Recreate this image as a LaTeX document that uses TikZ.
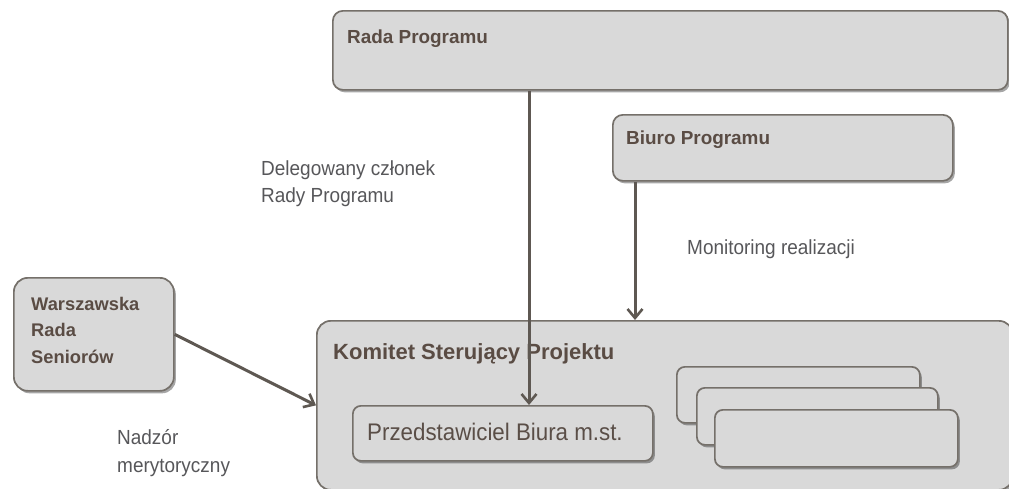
\documentclass[tikz,border=0pt]{standalone}
\usepackage{fontspec}
\setmainfont{Liberation Sans}
\newfontfamily\narrowfont[FakeStretch=0.93]{Liberation Sans}
\usetikzlibrary{arrows.meta,shadows,calc}
\definecolor{boxfill}{HTML}{D9D9D9}
\definecolor{boxline}{HTML}{75706A}
\definecolor{titlecol}{HTML}{5A4C44}
\definecolor{labelcol}{HTML}{57575A}
\definecolor{arrowcol}{HTML}{5E5852}
\begin{document}
\begin{tikzpicture}[x=1pt,y=-1pt,
  box/.style={draw=boxline, line width=1.7pt, fill=boxfill, rounded corners=10pt,
    anchor=north west, inner sep=0pt,
    drop shadow={shadow xshift=2pt,shadow yshift=-2.5pt,fill=black,opacity=0.35}},
  smallbox/.style={box, rounded corners=8pt},
  title/.style={font=\fontsize{18.9}{26.5}\selectfont\bfseries, text=titlecol, inner sep=0pt, anchor=base west, align=left},
  lbl/.style={font=\narrowfont\fontsize{20.4}{26.5}\selectfont, text=labelcol, inner sep=0pt, anchor=base west, align=left},
  arr/.style={draw=arrowcol, line width=3pt, -{Straight Barb[length=9pt,width=15pt,line width=2.6pt]}}
]
\useasboundingbox (0,0) rectangle (1009,488);
\fill[white] (0,0) rectangle (1009,488);
\clip (0,0) rectangle (1009,488);

% boxes
\node[box, minimum width=675pt, minimum height=79pt] (rada) at (332,10) {};
\node[box, minimum width=340pt, minimum height=66pt] (biuro) at (612,114) {};
\node[box, minimum width=160pt, minimum height=113pt, rounded corners=14pt] (wrs) at (13,277) {};
\node[box, minimum width=696pt, minimum height=169pt, rounded corners=14pt] (kom) at (316,320) {};
\node[smallbox, minimum width=243pt, minimum height=56pt] (s1) at (676,366) {};
\node[smallbox, minimum width=241pt, minimum height=57pt] (s2) at (696,387) {};
\node[smallbox, minimum width=243pt, minimum height=57pt] (s3) at (714,409) {};
\node[smallbox, minimum width=300pt, minimum height=55pt] (prz) at (352,405) {};

% texts
\node[title] (radat) at (347,43) {Rada Programu};
\node[title] (biurot) at (626,144) {Biuro Programu};
\node[title, font=\fontsize{18.3}{26.5}\selectfont\bfseries] (wrst) at (31,363) {Warszawska\\Rada\\Seniorów};
\node[title, font=\fontsize{22}{26}\selectfont\bfseries] (komt) at (333,359) {Komitet Sterujący Projektu};
\node[lbl, font=\narrowfont\fontsize{24}{28}\selectfont, text=titlecol!85!labelcol] (przt) at (367,440) {Przedstawiciel Biura m.st.};

\node[lbl] (deleg) at (261,202) {Delegowany członek\\Rady Programu};
\node[lbl] (monit) at (687,254) {Monitoring realizacji};
\node[lbl, font=\narrowfont\fontsize{20.4}{28}\selectfont] (nadz) at (117,472) {Nadzór\\merytoryczny};

% connectors
\coordinate (ax) at (529,0);
\coordinate (bx) at (635,0);
\draw[arr] (rada.south -| ax) -- (prz.north -| ax);
\draw[arr] (biuro.south -| bx) -- (kom.north -| bx);
\draw[arr] (wrs.east) -- (kom.west);
\end{tikzpicture}
\end{document}
